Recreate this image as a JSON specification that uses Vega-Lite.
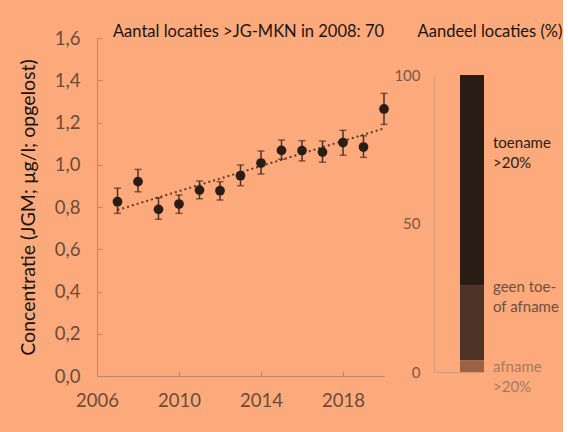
{
  "$schema": "https://vega.github.io/schema/vega-lite/v6.json",
  "background": "#fcaa7b",
  "padding": {"left": 18, "top": 23, "right": 0, "bottom": 22},
  "config": {
    "font": "Lato",
    "view": {"stroke": null},
    "axis": {"grid": false, "labelFont": "Lato", "titleFont": "Lato"},
    "title": {"font": "Lato", "fontWeight": "normal", "color": "#1a1410"}
  },
  "datasets": {
    "conc": [
      {"year": 2007, "value": 0.825, "lo": 0.77, "hi": 0.889},
      {"year": 2008, "value": 0.920, "lo": 0.872, "hi": 0.978},
      {"year": 2009, "value": 0.789, "lo": 0.742, "hi": 0.844},
      {"year": 2010, "value": 0.814, "lo": 0.770, "hi": 0.857},
      {"year": 2011, "value": 0.880, "lo": 0.839, "hi": 0.923},
      {"year": 2012, "value": 0.877, "lo": 0.833, "hi": 0.920},
      {"year": 2013, "value": 0.948, "lo": 0.901, "hi": 0.999},
      {"year": 2014, "value": 1.008, "lo": 0.956, "hi": 1.065},
      {"year": 2015, "value": 1.068, "lo": 1.026, "hi": 1.117},
      {"year": 2016, "value": 1.067, "lo": 1.018, "hi": 1.114},
      {"year": 2017, "value": 1.060, "lo": 1.012, "hi": 1.112},
      {"year": 2018, "value": 1.105, "lo": 1.045, "hi": 1.163},
      {"year": 2019, "value": 1.084, "lo": 1.035, "hi": 1.137},
      {"year": 2020, "value": 1.264, "lo": 1.191, "hi": 1.338}
    ],
    "trend": [
      {"year": 2007, "trend": 0.786},
      {"year": 2020, "trend": 1.172}
    ],
    "share": [
      {"group": "all", "cat": "afname >20%", "order": 1, "pct": 4},
      {"group": "all", "cat": "geen toe- of afname", "order": 2, "pct": 25},
      {"group": "all", "cat": "toename >20%", "order": 3, "pct": 71}
    ],
    "labels": [
      {"group": "all", "label": "toename\n>20%", "pos": 77.2, "kind": "toename"},
      {"group": "all", "label": "geen toe-\nof afname", "pos": 28.7, "kind": "geen"},
      {"group": "all", "label": "afname\n>20%", "pos": 1.7, "kind": "afname"}
    ]
  },
  "hconcat": [
    {
      "width": 287,
      "height": 338,
      "title": {"text": "Aantal locaties >JG-MKN in 2008: 70", "fontSize": 16.5, "dx": 8, "offset": -11},
      "layer": [
        {
          "mark": {"type": "rule", "color": "#33241b", "strokeWidth": 2.5},
          "encoding": {"y": {"datum": 0.5, "type": "quantitative", "title": "Concentratie (JGM; µg/l; opgelost)", "scale": {"domain": [0, 1.6], "nice": false}}}
        },
        {
          "mark": {"type": "text", "text": "JG-MKN", "align": "right", "baseline": "middle", "dx": -7, "dy": 19, "fontSize": 16, "color": "#33241b"},
          "encoding": {
            "x": {"datum": 2020, "type": "quantitative"},
            "y": {"datum": 0.5, "type": "quantitative", "title": "Concentratie (JGM; µg/l; opgelost)"}
          }
        },
        {
          "data": {"name": "trend"},
          "mark": {"type": "line", "color": "#5a3a2a", "strokeWidth": 2, "strokeDash": [2, 3]},
          "encoding": {
            "x": {"field": "year", "type": "quantitative"},
            "y": {"field": "trend", "type": "quantitative", "title": "Concentratie (JGM; µg/l; opgelost)"}
          }
        },
        {
          "data": {"name": "conc"},
          "mark": {"type": "errorbar", "ticks": {"size": 7, "color": "#4a3226", "thickness": 1.5}, "rule": {"color": "#4a3226", "strokeWidth": 1.5}},
          "encoding": {
            "x": {"field": "year", "type": "quantitative"},
            "y": {"field": "lo", "type": "quantitative", "title": "Concentratie (JGM; µg/l; opgelost)"},
            "y2": {"field": "hi"}
          }
        },
        {
          "data": {"name": "conc"},
          "mark": {"type": "circle", "size": 95, "color": "#2a1d16", "opacity": 1},
          "encoding": {
            "x": {
              "field": "year", "type": "quantitative",
              "scale": {"domain": [2006, 2020], "nice": false, "zero": false},
              "axis": {
                "title": null, "values": [2006, 2010, 2014, 2018], "format": "d",
                "labelFontSize": 18.5, "labelColor": "#6b4a3a", "labelPadding": 20,
                "tickSize": -5, "tickColor": "#b9876a", "domainColor": "#b9876a", "labelFlush": false
              }
            },
            "y": {
              "field": "value", "type": "quantitative", "title": "Concentratie (JGM; µg/l; opgelost)",
              "scale": {"domain": [0, 1.6], "nice": false},
              "axis": {
                "titleFontSize": 19.5, "titleFontWeight": "normal", "titleColor": "#1a1410",
                "titlePadding": 16,
                "values": [0, 0.2, 0.4, 0.6, 0.8, 1.0, 1.2, 1.4, 1.6],
                "labelExpr": "replace(format(datum.value, '.1f'), '.', ',')",
                "labelFontSize": 18.5, "labelColor": "#6b4a3a", "labelPadding": 22,
                "tickSize": -5, "tickColor": "#b9876a", "domainColor": "#b9876a"
              }
            }
          }
        }
      ]
    },
    {
      "vconcat": [
        {
          "width": 50,
          "height": 20,
          "title": {"text": "Aandeel locaties (%)", "fontSize": 16.5, "dx": 31, "offset": -3},
          "data": {"values": [{}]},
          "mark": {"type": "rule"},
          "encoding": {}
        },
        {
          "width": 50,
          "height": 297,
          "layer": [
            {
              "data": {"name": "share"},
              "mark": {"type": "bar"},
              "encoding": {
                "x": {"field": "group", "type": "nominal", "scale": {"paddingInner": 0, "paddingOuter": 0.5417, "align": 1},
                  "axis": {"title": null, "labels": false, "ticks": false, "domainColor": "#d39a78"}},
                "y": {"field": "pct", "type": "quantitative", "stack": "zero",
                  "scale": {"domain": [0, 100], "nice": false},
                  "axis": {"title": null, "values": [0, 50, 100], "ticks": false, "labelFontSize": 15, "labelColor": "#7a5848", "labelPadding": 14, "domainColor": "#d39a78"}},
                "order": {"field": "order", "type": "quantitative"},
                "color": {"field": "cat", "type": "nominal", "legend": null,
                  "scale": {"domain": ["afname >20%", "geen toe- of afname", "toename >20%"], "range": ["#9b6247", "#4e3427", "#291c15"]}}
              }
            },
            {
              "data": {"name": "labels"},
              "mark": {"type": "text", "align": "left", "baseline": "middle", "dx": 21, "fontSize": 15, "lineBreak": "\n", "lineHeight": 20},
              "encoding": {
                "x": {"field": "group", "type": "nominal"},
                "y": {"field": "pos", "type": "quantitative"},
                "text": {"field": "label"},
                "color": {"field": "kind", "type": "nominal", "legend": null,
                  "scale": {"domain": ["toename", "geen", "afname"], "range": ["#2a1d16", "#6e5040", "#a57a64"]}}
              }
            }
          ],
          "resolve": {"scale": {"color": "independent"}}
        }
      ],
      "spacing": 10
    }
  ],
  "spacing": 4
}
